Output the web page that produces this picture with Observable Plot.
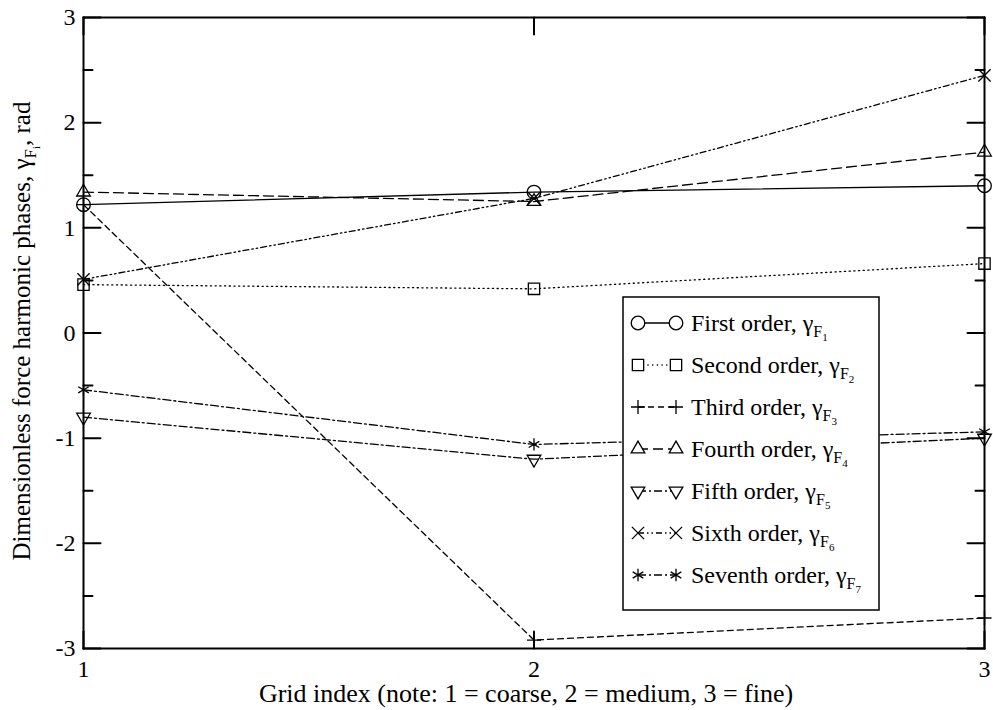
<!DOCTYPE html>
<html><head><meta charset="utf-8">
<script src="https://cdn.jsdelivr.net/npm/d3@7"></script>
<script src="https://cdn.jsdelivr.net/npm/@observablehq/plot@0.6"></script>
<style>body{margin:0;background:#fff;} #chart{width:993px;height:710px;}</style>
</head><body><div id="chart"></div>
<script>
// ---- data ----
const gridIndex = [1, 2, 3];
const seriesNames = ["First order", "Second order", "Third order", "Fourth order", "Fifth order", "Sixth order", "Seventh order"];
const seriesSubscripts = ["1", "2", "3", "4", "5", "6", "7"];
const firstOrder   = [1.22, 1.34, 1.40];
const secondOrder  = [0.46, 0.42, 0.66];
const thirdOrder   = [1.22, -2.92, -2.71];
const fourthOrder  = [1.34, 1.25, 1.72];
const fifthOrder   = [-0.80, -1.20, -1.00];
const sixthOrder   = [0.51, 1.28, 2.45];
const seventhOrder = [-0.54, -1.06, -0.94];
const seriesValues = [firstOrder, secondOrder, thirdOrder, fourthOrder, fifthOrder, sixthOrder, seventhOrder];
const yMajorTicks = [-3, -2, -1, 0, 1, 2, 3];
const yTickLabels = ["-3", "-2", "-1", "0", "1", "2", "3"];
const yMinorTicks = [-2.5, -1.5, -0.5, 0.5, 1.5, 2.5];
const xMajorTicks = [1, 2, 3];
const xTickLabels = ["1", "2", "3"];
const xLabel = "Grid index (note: 1 = coarse, 2 = medium, 3 = fine)";
const yLabelMain = "Dimensionless force harmonic phases, γ";
const yLabelSub = "F";
const yLabelSubSub = "i";
const yLabelTail = ", rad";

// ---- styles ----
const FONT = "'Liberation Serif', 'Times New Roman', serif";
const styles = [
  {symbol: "circle", r: 6.8, dash: null, rotate: 0},
  {symbol: "square2", r: 7.2, dash: "1.2,3.5", rotate: 0},
  {symbol: "plus", r: 4.6, dash: "6,4", rotate: 0},
  {symbol: "triangle2", r: 6.5, dash: "10,5", rotate: 0},
  {symbol: "triangle2", r: 6.5, dash: "8,3,2,3", rotate: 180},
  {symbol: "times", r: 5.6, dash: "6,3,1.5,3,1.5,3", rotate: 0},
  {symbol: "asterisk", r: 5.8, dash: "8,3,2,3", rotate: 0}
];

const tickShape = {draw(context, l) { context.moveTo(0, 0); context.lineTo(0, -l); }};
const tickOpts = {anchor: "start", shape: tickShape, stroke: "black", strokeWidth: 2};

const marks = [];
seriesValues.forEach((vals, i) => {
  const st = styles[i];
  const data = gridIndex.map((g, j) => ({x: g, y: vals[j]}));
  const lineOpts = {x: "x", y: "y", stroke: "black", strokeWidth: 1.3};
  if (st.dash) lineOpts.strokeDasharray = st.dash;
  marks.push(Plot.line(data, lineOpts));
  marks.push(Plot.dot(data, {x: "x", y: "y", symbol: st.symbol, r: st.r, stroke: "black", strokeWidth: 1.3, fill: "none", rotate: st.rotate}));
});

const chart = Plot.plot({
  width: 993,
  height: 710,
  marginLeft: 83,
  marginRight: 9,
  marginTop: 17,
  marginBottom: 62,
  style: {fontFamily: FONT, background: "white", color: "black"},
  x: {domain: [1, 3]},
  y: {domain: [-3, 3]},
  marks: [
    ...marks,
    Plot.vector(yMajorTicks, {y: d => d, frameAnchor: "left", rotate: 90, length: 17, ...tickOpts}),
    Plot.vector(yMinorTicks, {y: d => d, frameAnchor: "left", rotate: 90, length: 9, ...tickOpts}),
    Plot.vector(yMajorTicks, {y: d => d, frameAnchor: "right", rotate: -90, length: 17, ...tickOpts}),
    Plot.vector(yMinorTicks, {y: d => d, frameAnchor: "right", rotate: -90, length: 9, ...tickOpts}),
    Plot.vector(xMajorTicks, {x: d => d, frameAnchor: "bottom", rotate: 0, length: 17, ...tickOpts}),
    Plot.vector(xMajorTicks, {x: d => d, frameAnchor: "top", rotate: 180, length: 17, ...tickOpts}),
    Plot.frame({stroke: "black", strokeWidth: 2}),
    Plot.axisY(yMajorTicks, {tickSize: 0, tickPadding: 8, fontSize: 24, label: null,
      tickFormat: d => yTickLabels[yMajorTicks.indexOf(d)]}),
    Plot.axisX(xMajorTicks, {tickSize: 0, tickPadding: 11, fontSize: 24, label: null,
      tickFormat: d => xTickLabels[xMajorTicks.indexOf(d)]})
  ]
});
document.getElementById("chart").appendChild(chart);

const svg = d3.select(chart);
const txt = (sel) => sel.attr("font-family", FONT).attr("fill", "black");

// x label
txt(svg.append("text"))
  .attr("x", 526).attr("y", 702).attr("text-anchor", "middle").attr("font-size", 26)
  .text(xLabel);

// y label
const yl = txt(svg.append("text"))
  .attr("transform", "translate(30,331) rotate(-90)").attr("text-anchor", "middle").attr("font-size", 25);
yl.append("tspan").text(yLabelMain);
yl.append("tspan").attr("font-size", 17).attr("dy", 6).text(yLabelSub);
yl.append("tspan").attr("font-size", 11).attr("dy", 4).text(yLabelSubSub);
yl.append("tspan").attr("font-size", 25).attr("dy", -10).text(yLabelTail);

// legend
const lg = svg.append("g");
lg.append("rect").attr("x", 623).attr("y", 297).attr("width", 256).attr("height", 313)
  .attr("fill", "white").attr("stroke", "black").attr("stroke-width", 1.5);
const symMap = {circle: d3.symbolCircle, square2: d3.symbolSquare2, plus: d3.symbolPlus,
  triangle2: d3.symbolTriangle2, times: d3.symbolTimes, asterisk: d3.symbolAsterisk};
seriesNames.forEach((name, i) => {
  const st = styles[i];
  const cy = 323 + i * 42;
  const x1 = 638, x2 = 676;
  const ln = lg.append("line").attr("x1", x1).attr("x2", x2).attr("y1", cy).attr("y2", cy)
    .attr("stroke", "black").attr("stroke-width", 1.3);
  if (st.dash) ln.attr("stroke-dasharray", st.dash);
  const path = d3.symbol(symMap[st.symbol], st.r * st.r * Math.PI)();
  [x1, x2].forEach(x => {
    if (st.symbol === "circle") {
      lg.append("circle").attr("cx", x).attr("cy", cy).attr("r", st.r).attr("fill", "white").attr("stroke", "black").attr("stroke-width", 1.3);
    } else {
      lg.append("path").attr("d", path).attr("transform", `translate(${x},${cy}) rotate(${st.rotate})`)
        .attr("fill", "white").attr("stroke", "black").attr("stroke-width", 1.3);
    }
  });
  const t = txt(lg.append("text")).attr("x", 691).attr("y", cy + 8).attr("font-size", 24).attr("text-anchor", "start");
  t.append("tspan").text(name + ", γ");
  t.append("tspan").attr("font-size", 16).attr("dy", 6).text("F");
  t.append("tspan").attr("font-size", 11).attr("dy", 4).text(seriesSubscripts[i]);
});
</script>
</body></html>
